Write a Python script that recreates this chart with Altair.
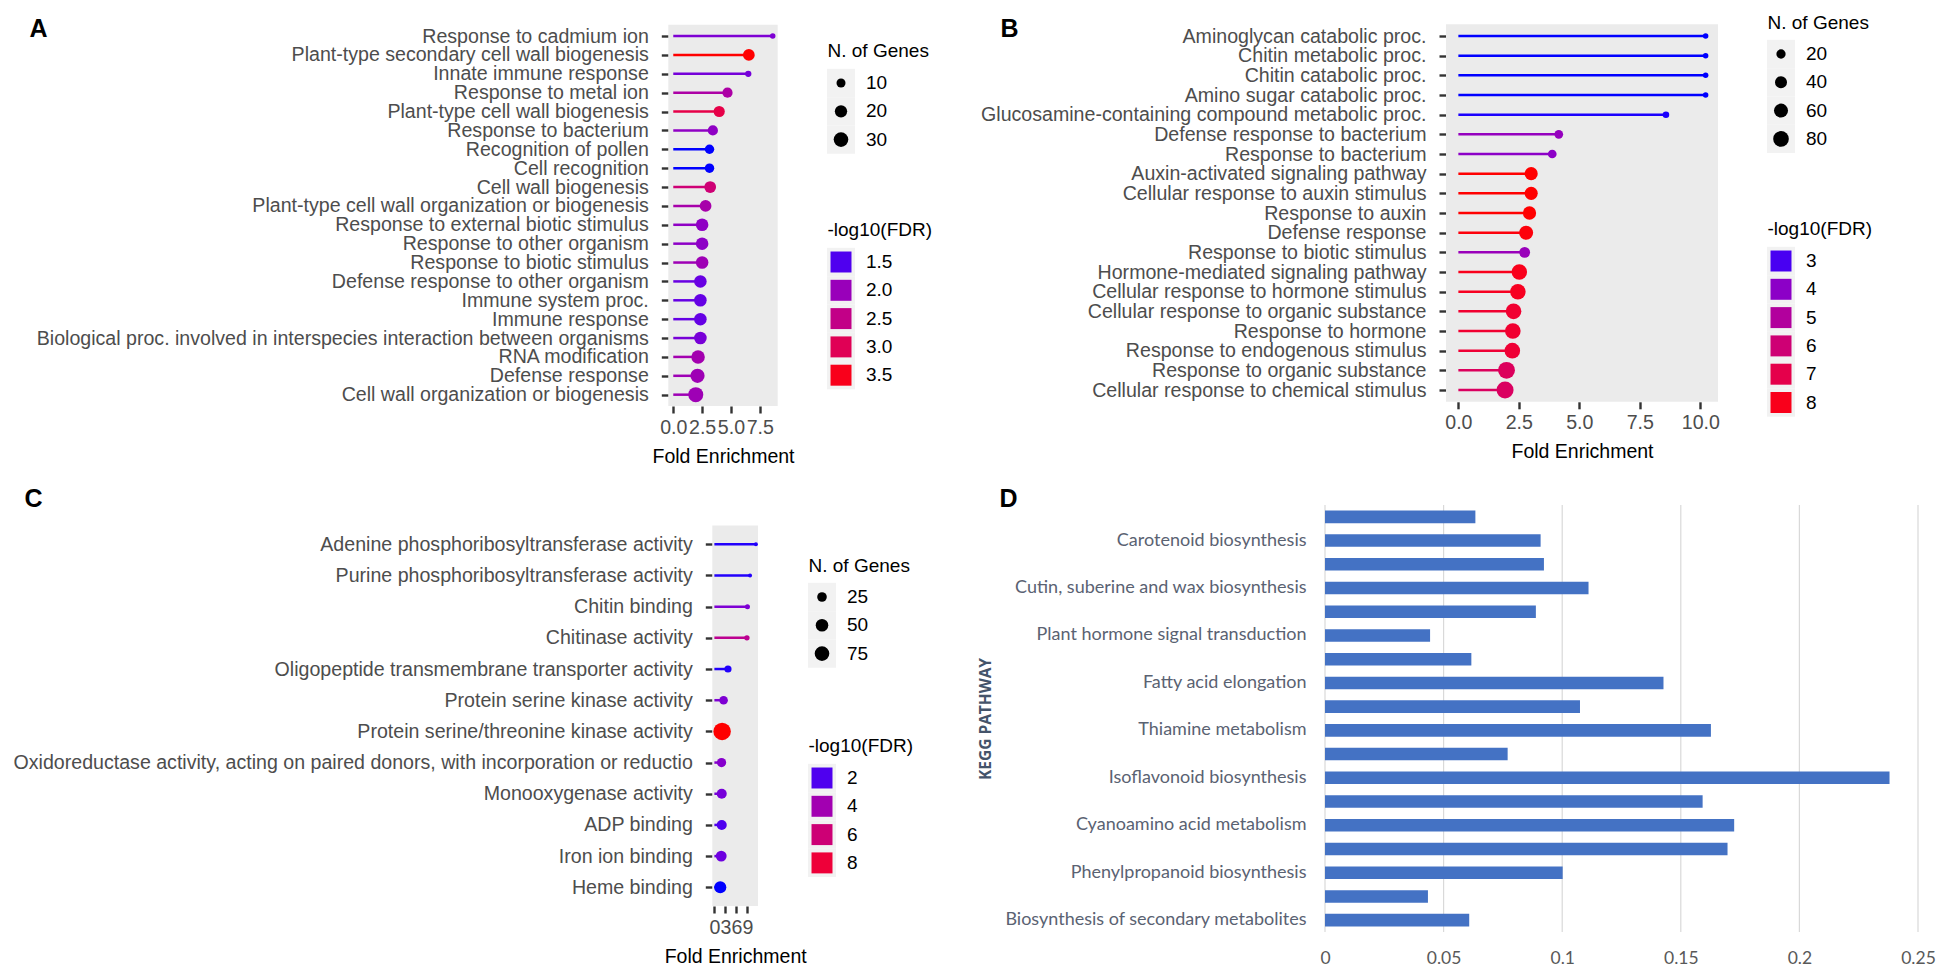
import json
import altair as alt
import pandas as pd

W, H = 1933, 962
FONT = "Liberation Sans"
DFONT = "Lato"
GRAY = "#4d4d4d"
KEYBG = "#f2f2f2"
TICK = "#333333"
LABEL_SIZE = 19.6
LEGEND_SIZE = 19

# ---------------- Panel A (biological process) ----------------
a_terms = [
    "Response to cadmium ion",
    "Plant-type secondary cell wall biogenesis",
    "Innate immune response",
    "Response to metal ion",
    "Plant-type cell wall biogenesis",
    "Response to bacterium",
    "Recognition of pollen",
    "Cell recognition",
    "Cell wall biogenesis",
    "Plant-type cell wall organization or biogenesis",
    "Response to external biotic stimulus",
    "Response to other organism",
    "Response to biotic stimulus",
    "Defense response to other organism",
    "Immune system proc.",
    "Immune response",
    "Biological proc. involved in interspecies interaction between organisms",
    "RNA modification",
    "Defense response",
    "Cell wall organization or biogenesis",
]
a_fold = [8.62, 6.55, 6.50, 4.70, 3.98, 3.43, 3.14, 3.14, 3.20, 2.80,
          2.50, 2.50, 2.50, 2.35, 2.35, 2.35, 2.35, 2.15, 2.10, 1.95]
a_genes = [4, 18, 5, 13, 16, 13, 11, 11, 18, 18,
           21, 21, 21, 21, 21, 21, 21, 25, 28, 32]
a_fdr = [1.76, 3.62, 1.70, 2.20, 3.12, 1.90, 1.35, 1.35, 2.68, 2.15,
         1.90, 1.88, 2.05, 1.62, 1.60, 1.60, 1.72, 2.10, 2.05, 2.05]
a_size_breaks = [10, 20, 30]
a_color_breaks = [1.5, 2.0, 2.5, 3.0, 3.5]

# ---------------- Panel B ----------------
b_terms = [
    "Aminoglycan catabolic proc.",
    "Chitin metabolic proc.",
    "Chitin catabolic proc.",
    "Amino sugar catabolic proc.",
    "Glucosamine-containing compound metabolic proc.",
    "Defense response to bacterium",
    "Response to bacterium",
    "Auxin-activated signaling pathway",
    "Cellular response to auxin stimulus",
    "Response to auxin",
    "Defense response",
    "Response to biotic stimulus",
    "Hormone-mediated signaling pathway",
    "Cellular response to hormone stimulus",
    "Cellular response to organic substance",
    "Response to hormone",
    "Response to endogenous stimulus",
    "Response to organic substance",
    "Cellular response to chemical stimulus",
]
b_fold = [10.22, 10.22, 10.22, 10.22, 8.58, 4.15, 3.88, 3.01, 3.01, 2.94,
          2.80, 2.74, 2.52, 2.46, 2.28, 2.25, 2.23, 1.99, 1.93]
b_genes = [5, 5, 5, 5, 8, 17, 17, 50, 50, 52, 60, 30, 78, 78, 80, 80, 80, 98, 100]
b_fdr = [2.7, 2.7, 2.7, 2.7, 2.75, 4.2, 4.0, 8.3, 8.3, 8.3, 8.2, 4.3,
         8.0, 7.9, 7.6, 7.6, 7.5, 6.6, 6.5]
b_size_breaks = [20, 40, 60, 80]
b_color_breaks = [3, 4, 5, 6, 7, 8]

# ---------------- Panel C (molecular function) ----------------
c_terms = [
    "Adenine phosphoribosyltransferase activity",
    "Purine phosphoribosyltransferase activity",
    "Chitin binding",
    "Chitinase activity",
    "Oligopeptide transmembrane transporter activity",
    "Protein serine kinase activity",
    "Protein serine/threonine kinase activity",
    "Oxidoreductase activity, acting on paired donors, with incorporation or reductio",
    "Monooxygenase activity",
    "ADP binding",
    "Iron ion binding",
    "Heme binding",
]
c_fold = [11.3, 9.7, 9.0, 8.85, 3.7, 2.5, 2.1, 1.95, 2.0, 2.0, 1.86, 1.6]
c_genes = [3, 3, 5, 6, 12, 19, 120, 23, 28, 28, 34, 46]
c_fdr = [1.6, 1.6, 2.9, 5.1, 1.6, 2.9, 9.2, 3.1, 2.7, 2.0, 2.5, 1.5]
c_size_breaks = [25, 50, 75]
c_color_breaks = [2, 4, 6, 8]

# ---------------- Panel D (KEGG) ----------------
d_labels = ["", "Carotenoid biosynthesis",
            "", "Cutin, suberine and wax biosynthesis",
            "", "Plant hormone signal transduction",
            "", "Fatty acid elongation",
            "", "Thiamine metabolism",
            "", "Isoflavonoid biosynthesis",
            "", "Cyanoamino acid metabolism",
            "", "Phenylpropanoid biosynthesis",
            "", "Biosynthesis of secondary metabolites"]
d_values = [0.0634, 0.0909, 0.0923, 0.1111, 0.0889, 0.0443, 0.0617, 0.1427, 0.1075,
            0.1627, 0.0770, 0.2380, 0.1592, 0.1725, 0.1697, 0.1002, 0.0434, 0.0608]
d_ticks = [0, 0.05, 0.1, 0.15, 0.2, 0.25]


def color_scale(vals):
    return alt.Scale(domain=[min(vals), max(vals)], range=["#0000ff", "#ff0000"],
                     interpolate="lab")


def size_scale(vals, dmin, dmax):
    return alt.Scale(type="pow", exponent=0.75, domain=[min(vals), max(vals)],
                     range=[dmin ** 2, dmax ** 2], zero=False)


def lollipop(terms, fold, genes, fdr, px, py, xticks, xfmt, ss, cs, letter, lxy):
    df = pd.DataFrame({"term": terms, "fold": fold, "genes": genes, "fdr": fdr})
    m = max(fold)
    xdom = [-0.05 * m, 1.05 * m]
    xs = alt.Scale(domain=xdom, range=list(px), nice=False, zero=False)
    ys = alt.Scale(type="point", domain=terms, range=list(py), padding=0.6)
    xaxis = alt.Axis(orient="bottom", offset=py[1] - H, values=xticks, format=xfmt,
                     labelFlush=False, labelOverlap=False, domain=False, grid=False,
                     tickSize=7, tickWidth=2.4, tickColor=TICK,
                     labelPadding=5, labelFont=FONT, labelFontSize=LABEL_SIZE, labelColor=GRAY,
                     title="Fold Enrichment", titleFont=FONT, titleFontSize=19.5,
                     titleFontWeight="normal", titleColor="black", titleY=50,
                     titleBaseline="middle")
    yaxis = alt.Axis(orient="left", offset=-px[0], domain=False, grid=False,
                     tickSize=7, tickWidth=2.4, tickColor=TICK,
                     labelPadding=13, labelFont=FONT, labelFontSize=LABEL_SIZE, labelColor=GRAY,
                     labelLimit=2000,
                     title=letter, titleX=lxy[0] - px[0], titleY=lxy[1], titleAngle=0,
                     titleAlign="left", titleBaseline="alphabetic", titleFont=FONT,
                     titleFontSize=25, titleFontWeight="bold", titleColor="black")
    bg = alt.Chart(pd.DataFrame({"panel": [letter]})).mark_rect(color="#ebebeb").encode(
        x=alt.XDatum(xdom[0], type="quantitative", scale=xs, axis=xaxis),
        x2=alt.X2Datum(xdom[1]),
        y=alt.Y("panel:N", scale=alt.Scale(type="band", range=list(py),
                                            paddingInner=0, paddingOuter=0), axis=None),
    )
    base = alt.Chart(df)
    seg = base.mark_rule(strokeWidth=2.5).encode(
        x=alt.X("fold:Q", scale=xs, axis=None),
        x2=alt.X2Datum(0),
        y=alt.Y("term:N", scale=ys, axis=yaxis),
        color=alt.Color("fdr:Q", scale=cs, legend=None),
    )
    dot = base.mark_circle(opacity=1).encode(
        x=alt.X("fold:Q", scale=xs, axis=None),
        y=alt.Y("term:N", scale=ys, axis=None),
        color=alt.Color("fdr:Q", scale=cs, legend=None),
        size=alt.Size("genes:Q", scale=ss, legend=None),
    )
    return [bg, seg, dot]


def legend_block(breaks, x0, title, title_y, yr, kind, scale, fmt):
    df = pd.DataFrame({"v": breaks})
    lx = alt.Scale(domain=[0, 1], range=[x0, x0 + 28])
    ly = alt.Scale(type="band", domain=breaks, range=list(yr), paddingInner=0, paddingOuter=0)
    yaxis = alt.Axis(orient="left", offset=-x0, labels=False, ticks=False, domain=False,
                     grid=False, title=title, titleX=0, titleY=title_y, titleAngle=0,
                     titleAlign="left", titleBaseline="middle", titleFont=FONT,
                     titleFontSize=LEGEND_SIZE, titleFontWeight="normal", titleColor="black")
    base = alt.Chart(df)
    key_bg = base.mark_rect(color=KEYBG).encode(
        x=alt.XDatum(0, type="quantitative", scale=lx, axis=None),
        x2=alt.X2Datum(1),
        y=alt.Y("v:O", scale=ly, axis=yaxis),
    )
    if kind == "size":
        sym = base.mark_circle(color="black", opacity=1).encode(
            x=alt.XDatum(0.5, type="quantitative", scale=lx, axis=None),
            y=alt.Y("v:O", scale=ly, axis=None),
            size=alt.Size("v:Q", scale=scale, legend=None),
        )
    else:
        sym = base.mark_square(size=440, opacity=1).encode(
            x=alt.XDatum(0.5, type="quantitative", scale=lx, axis=None),
            y=alt.Y("v:O", scale=ly, axis=None),
            color=alt.Color("v:Q", scale=scale, legend=None),
        )
    lab = base.mark_text(align="left", baseline="middle", dx=11, font=FONT,
                         fontSize=LEGEND_SIZE, color="black").encode(
        x=alt.XDatum(1, type="quantitative", scale=lx, axis=None),
        y=alt.Y("v:O", scale=ly, axis=None),
        text=alt.Text("v:Q", format=fmt),
    )
    return [key_bg, sym, lab]


def band(first_center, n, step=28.3):
    top = first_center - step / 2
    return [top, top + n * step]


# scales
a_ss, a_cs = size_scale(a_genes, 5.5, 15.0), color_scale(a_fdr)
b_ss, b_cs = size_scale(b_genes, 5.5, 17.0), color_scale(b_fdr)
c_ss, c_cs = size_scale(c_genes, 4.0, 17.5), color_scale(c_fdr)

layers = []
layers += lollipop(a_terms, a_fold, a_genes, a_fdr, (660.3, 769.7), (16.7, 398.0),
                   [0, 2.5, 5, 7.5], ".1f", a_ss, a_cs, "A", (21, 28))
layers += lollipop(b_terms, b_fold, b_genes, b_fdr, (1438.0, 1710.0), (16.2, 393.8),
                   [0, 2.5, 5, 7.5, 10], ".1f", b_ss, b_cs, "B", (992, 28))
layers += lollipop(c_terms, c_fold, c_genes, c_fdr, (704.3, 750.0), (517.6, 898.0),
                   [0, 3, 6, 9], "d", c_ss, c_cs, "C", (16, 498))

layers += legend_block(a_size_breaks, 819, "N. of Genes", 42, band(75, 3), "size", a_ss, "d")
layers += legend_block(a_color_breaks, 819, "-log10(FDR)", 221, band(254, 5), "color", a_cs, ".1f")
layers += legend_block(b_size_breaks, 1759, "N. of Genes", 14, band(46, 4), "size", b_ss, "d")
layers += legend_block(b_color_breaks, 1759, "-log10(FDR)", 220, band(253, 6), "color", b_cs, "d")
layers += legend_block(c_size_breaks, 800, "N. of Genes", 557, band(589, 3), "size", c_ss, "d")
layers += legend_block(c_color_breaks, 800, "-log10(FDR)", 737, band(770, 4), "color", c_cs, "d")

# Panel D
d_df = pd.DataFrame({"idx": list(range(len(d_values))), "ratio": d_values})
d_px, d_py = (1317.0, 1910.0), (497.0, 924.0)
d_xs = alt.Scale(domain=[0, 0.25], range=list(d_px), nice=False)
d_xaxis = alt.Axis(orient="bottom", offset=d_py[1] - H, values=d_ticks, format=".2~f",
                   grid=False, ticks=False, domain=False,
                   labelFlush=False, labelPadding=17, labelFont=DFONT, labelFontSize=17.5,
                   labelColor="#595959",
                   title="D", titleX=991, titleY=498 - d_py[1], titleAngle=0,
                   titleAlign="left", titleBaseline="alphabetic", titleFont=FONT,
                   titleFontSize=25, titleFontWeight="bold", titleColor="black")
d_yaxis = alt.Axis(orient="left", offset=-d_px[0], ticks=False, domain=False, grid=False,
                   labelPadding=19, labelFont=DFONT, labelFontSize=18, labelColor="#5a6272",
                   labelLimit=2000, labelExpr=json.dumps(d_labels) + "[datum.value]",
                   title="KEGG PATHWAY", titleX=977 - d_px[0], titleY=(d_py[0] + d_py[1]) / 2,
                   titleAngle=270, titleAlign="center", titleBaseline="middle",
                   titleFont="Open Sans", titleFontSize=15.5, titleFontWeight="bold",
                   titleColor="#44546a")
d_grid = alt.Chart(pd.DataFrame({"t": d_ticks})).mark_rule(color="#d9d9d9", strokeWidth=1.2).encode(
    x=alt.X("t:Q", scale=d_xs, axis=d_xaxis),
    y=alt.YDatum(0, type="quantitative",
                 scale=alt.Scale(domain=[0, 1], range=list(d_py), nice=False, zero=False),
                 axis=None),
    y2=alt.Y2Datum(1),
)
d_bars = alt.Chart(d_df).mark_bar(color="#4472c4").encode(
    x=alt.X("ratio:Q", scale=d_xs, axis=None),
    y=alt.Y("idx:O", scale=alt.Scale(type="band", domain=list(range(len(d_values))),
                                     range=list(d_py), paddingInner=0.47,
                                     paddingOuter=0.235), axis=d_yaxis),
)
layers += [d_grid, d_bars]

chart = alt.layer(*layers).resolve_scale(
    x="independent", y="independent", color="independent", size="independent"
).properties(
    width=W, height=H, padding=0, autosize=alt.AutoSizeParams(type="none")
).configure_view(stroke=None)

chart.save("out.html", embed_options={"renderer": "svg", "actions": False})
